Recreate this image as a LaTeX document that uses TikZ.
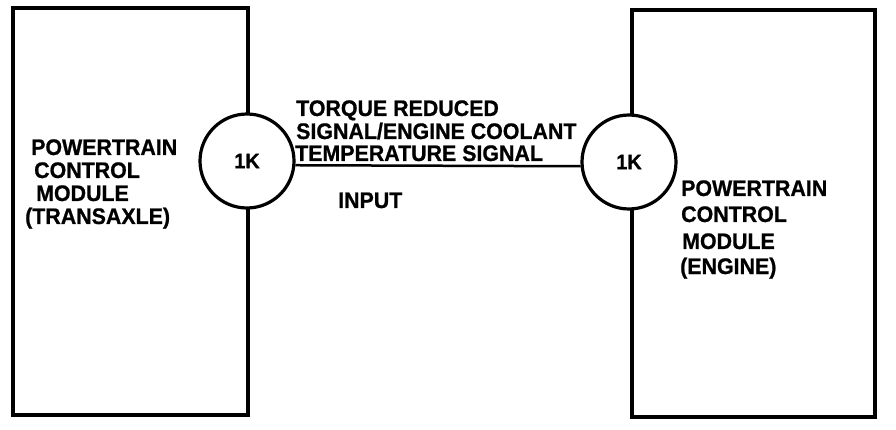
\documentclass[tikz,border=0pt]{standalone}
\usepackage{fontspec}
\newfontfamily\lblfont[FakeStretch=0.95,FakeBold=0.8]{Liberation Sans}
\begin{document}
\begin{tikzpicture}[x=1pt,y=-1pt,
  modbox/.style={draw,line width=3.4pt},
  pin/.style={circle,draw,line width=3.2pt,fill=white,minimum size=94pt,inner sep=0pt,font=\lblfont\bfseries\fontsize{21}{21}\selectfont},
  lbl/.style={anchor=base west,inner sep=0pt,font=\lblfont\bfseries\fontsize{22.5}{22.5}\selectfont},
  wire/.style={line width=2.5pt}]
\useasboundingbox (0,0) rectangle (896,430);
\draw[modbox] (13,8) rectangle (248,415);
\draw[modbox] (632,10) rectangle (875,417);
\node[pin] (c1) at (247,161) {1K};
\node[pin] (c2) at (629,162) {1K};
\draw[wire] (c1.-5) -- (c2.185);
% left module text
\node[lbl] (l1) at (31,155) {POWERTRAIN};
\node[lbl] (l2) at (34,178) {CONTROL};
\node[lbl] (l3) at (36,201) {MODULE};
\node[lbl] (l4) at (25,224) {(TRANSAXLE)};
% right module text
\node[lbl] (r1) at (681,196) {POWERTRAIN};
\node[lbl] (r2) at (681,222) {CONTROL};
\node[lbl] (r3) at (682,249) {MODULE};
\node[lbl] (r4) at (680,274) {(ENGINE)};
% signal text
\node[lbl] (s1) at (296,116) {TORQUE REDUCED};
\node[lbl] (s2) at (296,139) {SIGNAL/ENGINE COOLANT};
\node[lbl] (s3) at (295,161) {TEMPERATURE SIGNAL};
\node[lbl] (in) at (338,208) {INPUT};
\end{tikzpicture}
\end{document}
